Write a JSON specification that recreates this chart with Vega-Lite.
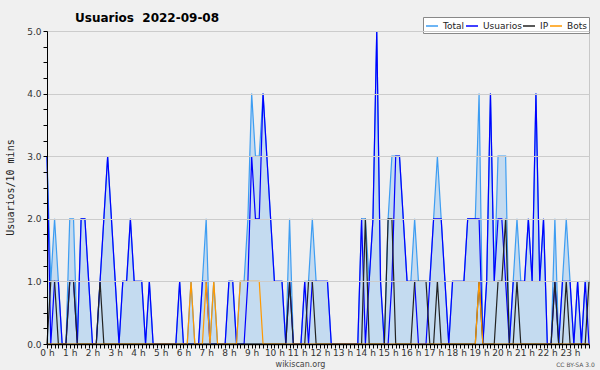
{
"$schema": "https://vega.github.io/schema/vega-lite/v6.json",
"width": 542, "height": 313,
"autosize": {"type": "none"},
"padding": {"left": 47, "top": 31, "right": 11, "bottom": 26},
"background": "#f0f0f0",
"title": {"text": "Usuarios\u00a0 2022-09-08", "anchor": "start", "frame": "group", "dx": 28, "dy": 27, "offset": 10, "baseline": "alphabetic", "font": "DejaVu Sans", "fontSize": 12, "fontWeight": "bold", "color": "#000000"},
"config": {"view": {"stroke": "#c8c8c8", "fill": "#f0f0f0"}},
"data": {"values": [
{"m":0,"Total":3,"Usuarios":3,"IP":0,"Bots":0},
{"m":10,"Total":1,"Usuarios":0,"IP":1,"Bots":0},
{"m":20,"Total":2,"Usuarios":1,"IP":1,"Bots":0},
{"m":30,"Total":1,"Usuarios":1,"IP":0,"Bots":0},
{"m":40,"Total":0,"Usuarios":0,"IP":0,"Bots":0},
{"m":50,"Total":0,"Usuarios":0,"IP":0,"Bots":0},
{"m":60,"Total":2,"Usuarios":1,"IP":1,"Bots":0},
{"m":70,"Total":2,"Usuarios":1,"IP":1,"Bots":0},
{"m":80,"Total":0,"Usuarios":0,"IP":0,"Bots":0},
{"m":90,"Total":2,"Usuarios":2,"IP":0,"Bots":0},
{"m":100,"Total":2,"Usuarios":2,"IP":0,"Bots":0},
{"m":110,"Total":1,"Usuarios":1,"IP":0,"Bots":0},
{"m":120,"Total":0,"Usuarios":0,"IP":0,"Bots":0},
{"m":130,"Total":0,"Usuarios":0,"IP":0,"Bots":0},
{"m":140,"Total":1,"Usuarios":1,"IP":1,"Bots":0},
{"m":150,"Total":2,"Usuarios":2,"IP":0,"Bots":0},
{"m":160,"Total":3,"Usuarios":3,"IP":0,"Bots":0},
{"m":170,"Total":2,"Usuarios":2,"IP":0,"Bots":0},
{"m":180,"Total":1,"Usuarios":1,"IP":0,"Bots":0},
{"m":190,"Total":0,"Usuarios":0,"IP":0,"Bots":0},
{"m":200,"Total":1,"Usuarios":1,"IP":0,"Bots":0},
{"m":210,"Total":1,"Usuarios":1,"IP":0,"Bots":0},
{"m":220,"Total":2,"Usuarios":2,"IP":0,"Bots":0},
{"m":230,"Total":1,"Usuarios":1,"IP":0,"Bots":0},
{"m":240,"Total":1,"Usuarios":1,"IP":0,"Bots":0},
{"m":250,"Total":1,"Usuarios":1,"IP":0,"Bots":0},
{"m":260,"Total":0,"Usuarios":0,"IP":0,"Bots":0},
{"m":270,"Total":1,"Usuarios":1,"IP":0,"Bots":0},
{"m":280,"Total":0,"Usuarios":0,"IP":0,"Bots":0},
{"m":290,"Total":0,"Usuarios":0,"IP":0,"Bots":0},
{"m":300,"Total":0,"Usuarios":0,"IP":0,"Bots":0},
{"m":310,"Total":0,"Usuarios":0,"IP":0,"Bots":0},
{"m":320,"Total":0,"Usuarios":0,"IP":0,"Bots":0},
{"m":330,"Total":0,"Usuarios":0,"IP":0,"Bots":0},
{"m":340,"Total":0,"Usuarios":0,"IP":0,"Bots":0},
{"m":350,"Total":1,"Usuarios":1,"IP":0,"Bots":0},
{"m":360,"Total":0,"Usuarios":0,"IP":0,"Bots":0},
{"m":370,"Total":0,"Usuarios":0,"IP":0,"Bots":0},
{"m":380,"Total":1,"Usuarios":0,"IP":0,"Bots":1},
{"m":390,"Total":0,"Usuarios":0,"IP":0,"Bots":0},
{"m":400,"Total":0,"Usuarios":0,"IP":0,"Bots":0},
{"m":410,"Total":1,"Usuarios":1,"IP":0,"Bots":0},
{"m":420,"Total":2,"Usuarios":1,"IP":0,"Bots":1},
{"m":430,"Total":0,"Usuarios":0,"IP":0,"Bots":0},
{"m":440,"Total":1,"Usuarios":0,"IP":0,"Bots":1},
{"m":450,"Total":0,"Usuarios":0,"IP":0,"Bots":0},
{"m":460,"Total":0,"Usuarios":0,"IP":0,"Bots":0},
{"m":470,"Total":0,"Usuarios":0,"IP":0,"Bots":0},
{"m":480,"Total":1,"Usuarios":1,"IP":0,"Bots":0},
{"m":490,"Total":1,"Usuarios":1,"IP":0,"Bots":0},
{"m":500,"Total":0,"Usuarios":0,"IP":0,"Bots":0},
{"m":510,"Total":1,"Usuarios":0,"IP":0,"Bots":1},
{"m":520,"Total":1,"Usuarios":0,"IP":0,"Bots":1},
{"m":530,"Total":2,"Usuarios":1,"IP":0,"Bots":1},
{"m":540,"Total":4,"Usuarios":3,"IP":0,"Bots":1},
{"m":550,"Total":3,"Usuarios":2,"IP":0,"Bots":1},
{"m":560,"Total":3,"Usuarios":2,"IP":0,"Bots":1},
{"m":570,"Total":4,"Usuarios":4,"IP":0,"Bots":0},
{"m":580,"Total":3,"Usuarios":3,"IP":0,"Bots":0},
{"m":590,"Total":2,"Usuarios":2,"IP":0,"Bots":0},
{"m":600,"Total":1,"Usuarios":1,"IP":0,"Bots":0},
{"m":610,"Total":1,"Usuarios":1,"IP":0,"Bots":0},
{"m":620,"Total":1,"Usuarios":1,"IP":0,"Bots":0},
{"m":630,"Total":0,"Usuarios":0,"IP":0,"Bots":0},
{"m":640,"Total":2,"Usuarios":1,"IP":1,"Bots":0},
{"m":650,"Total":0,"Usuarios":0,"IP":0,"Bots":0},
{"m":660,"Total":0,"Usuarios":0,"IP":0,"Bots":0},
{"m":670,"Total":0,"Usuarios":0,"IP":0,"Bots":0},
{"m":680,"Total":1,"Usuarios":1,"IP":0,"Bots":0},
{"m":690,"Total":1,"Usuarios":0,"IP":1,"Bots":0},
{"m":700,"Total":2,"Usuarios":1,"IP":1,"Bots":0},
{"m":710,"Total":1,"Usuarios":1,"IP":0,"Bots":0},
{"m":720,"Total":1,"Usuarios":1,"IP":0,"Bots":0},
{"m":730,"Total":1,"Usuarios":1,"IP":0,"Bots":0},
{"m":740,"Total":1,"Usuarios":1,"IP":0,"Bots":0},
{"m":750,"Total":0,"Usuarios":0,"IP":0,"Bots":0},
{"m":760,"Total":0,"Usuarios":0,"IP":0,"Bots":0},
{"m":770,"Total":0,"Usuarios":0,"IP":0,"Bots":0},
{"m":780,"Total":0,"Usuarios":0,"IP":0,"Bots":0},
{"m":790,"Total":0,"Usuarios":0,"IP":0,"Bots":0},
{"m":800,"Total":0,"Usuarios":0,"IP":0,"Bots":0},
{"m":810,"Total":0,"Usuarios":0,"IP":0,"Bots":0},
{"m":820,"Total":0,"Usuarios":0,"IP":0,"Bots":0},
{"m":830,"Total":2,"Usuarios":2,"IP":0,"Bots":0},
{"m":840,"Total":2,"Usuarios":0,"IP":2,"Bots":0},
{"m":850,"Total":1,"Usuarios":1,"IP":0,"Bots":0},
{"m":860,"Total":2,"Usuarios":2,"IP":0,"Bots":0},
{"m":870,"Total":5,"Usuarios":5,"IP":0,"Bots":0},
{"m":880,"Total":1,"Usuarios":1,"IP":0,"Bots":0},
{"m":890,"Total":0,"Usuarios":0,"IP":0,"Bots":0},
{"m":900,"Total":2,"Usuarios":0,"IP":2,"Bots":0},
{"m":910,"Total":3,"Usuarios":1,"IP":2,"Bots":0},
{"m":920,"Total":3,"Usuarios":3,"IP":0,"Bots":0},
{"m":930,"Total":3,"Usuarios":3,"IP":0,"Bots":0},
{"m":940,"Total":2,"Usuarios":2,"IP":0,"Bots":0},
{"m":950,"Total":1,"Usuarios":1,"IP":0,"Bots":0},
{"m":960,"Total":1,"Usuarios":1,"IP":0,"Bots":0},
{"m":970,"Total":2,"Usuarios":1,"IP":1,"Bots":0},
{"m":980,"Total":1,"Usuarios":0,"IP":1,"Bots":0},
{"m":990,"Total":1,"Usuarios":0,"IP":1,"Bots":0},
{"m":1000,"Total":1,"Usuarios":0,"IP":1,"Bots":0},
{"m":1010,"Total":1,"Usuarios":1,"IP":0,"Bots":0},
{"m":1020,"Total":2,"Usuarios":2,"IP":0,"Bots":0},
{"m":1030,"Total":3,"Usuarios":2,"IP":1,"Bots":0},
{"m":1040,"Total":2,"Usuarios":2,"IP":0,"Bots":0},
{"m":1050,"Total":1,"Usuarios":1,"IP":0,"Bots":0},
{"m":1060,"Total":0,"Usuarios":0,"IP":0,"Bots":0},
{"m":1070,"Total":1,"Usuarios":1,"IP":0,"Bots":0},
{"m":1080,"Total":1,"Usuarios":1,"IP":0,"Bots":0},
{"m":1090,"Total":1,"Usuarios":1,"IP":0,"Bots":0},
{"m":1100,"Total":1,"Usuarios":1,"IP":0,"Bots":0},
{"m":1110,"Total":2,"Usuarios":2,"IP":0,"Bots":0},
{"m":1120,"Total":2,"Usuarios":2,"IP":0,"Bots":0},
{"m":1130,"Total":2,"Usuarios":2,"IP":0,"Bots":0},
{"m":1140,"Total":4,"Usuarios":2,"IP":1,"Bots":1},
{"m":1150,"Total":0,"Usuarios":0,"IP":0,"Bots":0},
{"m":1160,"Total":1,"Usuarios":1,"IP":0,"Bots":0},
{"m":1170,"Total":4,"Usuarios":4,"IP":0,"Bots":0},
{"m":1180,"Total":1,"Usuarios":1,"IP":0,"Bots":0},
{"m":1190,"Total":3,"Usuarios":2,"IP":1,"Bots":0},
{"m":1200,"Total":3,"Usuarios":2,"IP":1,"Bots":0},
{"m":1210,"Total":3,"Usuarios":1,"IP":2,"Bots":0},
{"m":1220,"Total":0,"Usuarios":0,"IP":0,"Bots":0},
{"m":1230,"Total":1,"Usuarios":1,"IP":0,"Bots":0},
{"m":1240,"Total":2,"Usuarios":1,"IP":1,"Bots":0},
{"m":1250,"Total":1,"Usuarios":1,"IP":0,"Bots":0},
{"m":1260,"Total":1,"Usuarios":1,"IP":0,"Bots":0},
{"m":1270,"Total":2,"Usuarios":2,"IP":0,"Bots":0},
{"m":1280,"Total":1,"Usuarios":1,"IP":0,"Bots":0},
{"m":1290,"Total":4,"Usuarios":4,"IP":0,"Bots":0},
{"m":1300,"Total":1,"Usuarios":1,"IP":0,"Bots":0},
{"m":1310,"Total":2,"Usuarios":2,"IP":0,"Bots":0},
{"m":1320,"Total":0,"Usuarios":0,"IP":0,"Bots":0},
{"m":1330,"Total":0,"Usuarios":0,"IP":0,"Bots":0},
{"m":1340,"Total":2,"Usuarios":1,"IP":1,"Bots":0},
{"m":1350,"Total":0,"Usuarios":0,"IP":0,"Bots":0},
{"m":1360,"Total":1,"Usuarios":1,"IP":0,"Bots":0},
{"m":1370,"Total":2,"Usuarios":1,"IP":1,"Bots":0},
{"m":1380,"Total":1,"Usuarios":1,"IP":0,"Bots":0},
{"m":1390,"Total":0,"Usuarios":0,"IP":0,"Bots":0},
{"m":1400,"Total":1,"Usuarios":1,"IP":0,"Bots":0},
{"m":1410,"Total":0,"Usuarios":0,"IP":0,"Bots":0},
{"m":1420,"Total":1,"Usuarios":1,"IP":0,"Bots":0},
{"m":1430,"Total":1,"Usuarios":0,"IP":1,"Bots":0}
]},
"layer": [
{
"mark": {"type": "area", "color": "#c4dbf0", "opacity": 1},
"encoding": {
"x": {"field": "m", "type": "quantitative", "scale": {"domain": [0, 1430], "nice": false, "zero": false},
 "axis": {"title": "wikiscan.org", "tickCount": 143, "labelExpr": "datum.value % 60 === 0 ? (datum.value/60) + ' h' : ''", "labelOverlap": false, "labelFlush": false, "grid": false, "domainColor": "#000000", "domainWidth": 1.5, "tickColor": "#000000", "tickSize": 4, "labelPadding": 0, "labelFontSize": 9, "labelFont": "DejaVu Sans", "labelColor": "#333333", "titleFont": "DejaVu Sans", "titleFontSize": 8, "titleFontWeight": "normal", "titleColor": "#444444", "titleX": 253, "titleY": 22, "titleBaseline": "alphabetic", "titleAlign": "center", "zindex": 1}},
"y": {"field": "Total", "type": "quantitative", "scale": {"domain": [0, 5], "nice": false},
 "axis": {"orient": "left", "title": "Usuarios/10 mins", "values": [0,0.25,0.5,0.75,1,1.25,1.5,1.75,2,2.25,2.5,2.75,3,3.25,3.5,3.75,4,4.25,4.5,4.75,5], "labelExpr": "datum.value % 1 === 0 ? format(datum.value, '.1f') : ''", "labelOverlap": false, "grid": true, "gridColor": "#cccccc", "gridOpacity": {"condition": {"test": "datum.value % 1 === 0 && datum.value > 0", "value": 1}, "value": 0}, "tickSize": 4, "tickColor": "#000000", "domainColor": "#000000", "labelPadding": 2, "labelFontSize": 9, "labelFont": "DejaVu Sans", "labelColor": "#333333", "titleFont": "DejaVu Sans Mono", "titleFontSize": 10, "titleFontWeight": "normal", "titleColor": "#222222", "titleAngle": -90, "titleX": -37, "titleY": 156, "titleAlign": "center", "titleBaseline": "middle", "zindex": 1}}
}
},
{
"transform": [{"fold": ["Total", "Usuarios", "IP", "Bots"], "as": ["serie", "valor"]}],
"mark": {"type": "line", "strokeWidth": 1.2},
"encoding": {
"x": {"field": "m", "type": "quantitative"},
"y": {"field": "valor", "type": "quantitative", "scale": {"domain": [0, 5], "nice": false},
 "axis": {"orient": "right", "title": "CC BY-SA 3.0", "domain": false, "ticks": false, "labels": false, "grid": false, "titleAngle": 0, "titleX": -14, "titleY": 333, "titleAlign": "center", "titleBaseline": "middle", "titleFont": "DejaVu Sans", "titleFontSize": 6, "titleFontWeight": "normal", "titleColor": "#555555"}},
"color": {"field": "serie", "type": "nominal",
 "scale": {"domain": ["Total", "Usuarios", "IP", "Bots"], "range": ["#3d9df2", "#0000ff", "#222222", "#ff9900"]},
 "legend": {"orient": "none", "legendX": 376, "legendY": -14, "direction": "horizontal", "title": null, "fillColor": "#ffffff", "strokeColor": "#888888", "padding": 2, "symbolType": "stroke", "symbolSize": 144, "symbolStrokeWidth": 1.5, "labelFontSize": 9, "labelFont": "DejaVu Sans", "labelColor": "#222222", "columnPadding": -4, "labelOffset": 4}}
}
}
],
"resolve": {"axis": {"y": "independent"}}
}
